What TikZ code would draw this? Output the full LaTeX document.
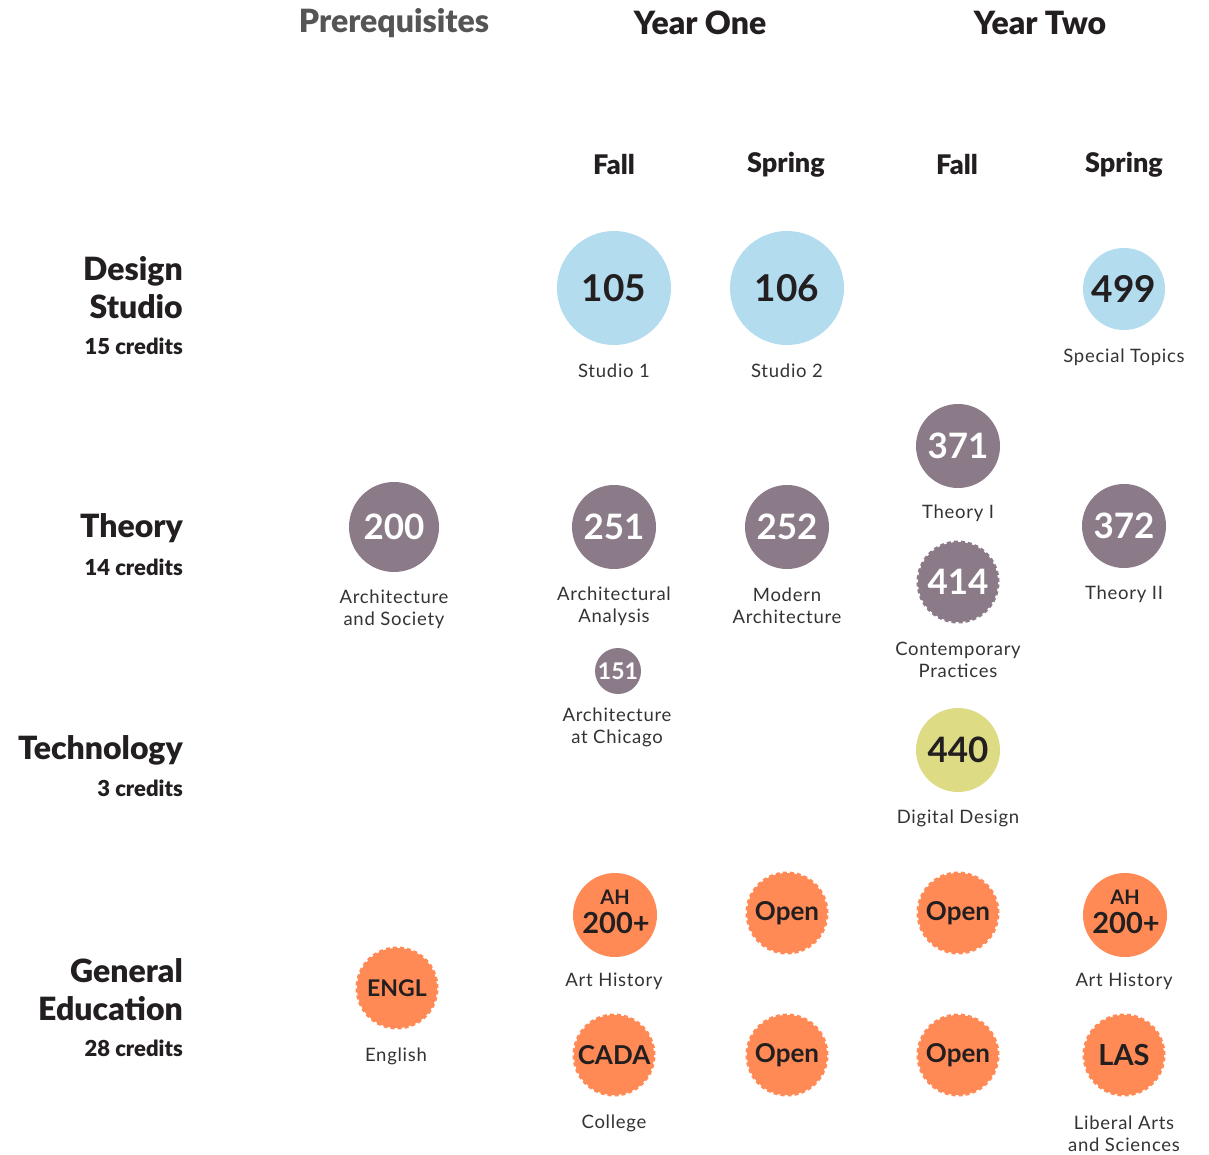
\documentclass[tikz,border=0pt]{standalone}
\usepackage{fontspec}
\setmainfont{Lato}
\newfontfamily\hdfont{Lato Black}
\newfontfamily\bdfont{Lato Bold}
\newfontfamily\lblfont[LetterSpace=4]{Lato}
\definecolor{cblue}{HTML}{B3DCEF}
\definecolor{cpurp}{HTML}{8B7A88}
\definecolor{corng}{HTML}{FF8A55}
\definecolor{cyell}{HTML}{DEDB85}
\definecolor{ink}{HTML}{231F20}
\definecolor{lblink}{HTML}{333333}
\definecolor{hdgray}{HTML}{555555}
\begin{document}
\begin{tikzpicture}[x=1pt,y=-1pt,
  crs/.style={circle,inner sep=0pt,minimum size=#1,align=center},
  bluec/.style={crs=114pt,fill=cblue,text=ink,font=\bdfont\fontsize{37}{37}\selectfont},
  bluesm/.style={crs=82pt,fill=cblue,text=ink,font=\bdfont\fontsize{37}{37}\selectfont},
  purpc/.style={crs=84pt,fill=cpurp,text=white,font=\bdfont\fontsize{35}{35}\selectfont},
  dashc/.style={crs=80pt,draw=#1,fill=#1,line width=3pt,dash pattern=on 4pt off 3pt},
  orgc/.style={crs=84pt,fill=corng,text=ink,font=\bdfont\fontsize{24}{24}\selectfont},
  intxt/.style={text=ink,font=\bdfont\fontsize{#1}{#1}\selectfont,inner sep=0pt},
  lbl/.style={align=center,text=lblink,font=\lblfont\fontsize{18.5}{22}\selectfont,inner sep=0pt},
  yhd/.style={font=\hdfont\fontsize{32}{32}\selectfont,text=ink,inner sep=0pt},
  shd/.style={font=\hdfont\fontsize{27}{27}\selectfont,text=ink,inner sep=0pt},
  rowhd/.style={anchor=east,align=right,font=\hdfont\fontsize{32}{38}\selectfont,text=ink,inner sep=0pt},
  cred/.style={anchor=east,font=\hdfont\fontsize{22}{22}\selectfont,text=ink,inner sep=0pt}
]
\useasboundingbox[fill=white] (0,0) rectangle (1209,1155);
% headers
\node[yhd,text=hdgray] (hpre) at (394,23) {Prerequisites};
\node[yhd] (hy1) at (700,23) {Year One};
\node[yhd] (hy2) at (1040,23) {Year Two};
\node[shd] (sf1) at (614,165) {Fall};
\node[shd] (ss1) at (786,165) {Spring};
\node[shd] (sf2) at (957,165) {Fall};
\node[shd] (ss2) at (1124,165) {Spring};
% row headers
\node[rowhd] (rds) at (183,288) {Design\\Studio};
\node[cred] (cds) at (183,346) {15 credits};
\node[rowhd] (rth) at (183,528) {Theory};
\node[cred] (cth) at (183,567) {14 credits};
\node[rowhd] (rte) at (183,750) {Technology};
\node[cred] (cte) at (183,788) {3 credits};
\node[rowhd] (rge) at (183,990) {General\\Education};
\node[cred] (cge) at (183,1048) {28 credits};
% design studio
\node[bluec] (c105) at (614,288) {105};
\node[lbl] (l105) at (614,371) {Studio 1};
\node[bluec] (c106) at (787,288) {106};
\node[lbl] (l106) at (787,371) {Studio 2};
\node[bluesm] (c499) at (1124,289) {499};
\node[lbl] (l499) at (1124,357) {Special Topics};
% theory
\node[purpc] (c371) at (958,446) {371};
\node[lbl] (l371) at (958,513) {Theory I};
\node[purpc,minimum size=90pt] (c200) at (394,527) {200};
\node[lbl] (l200) at (394,609) {Architecture\\and Society};
\node[purpc] (c251) at (614,527) {251};
\node[lbl] (l251) at (614,606) {Architectural\\Analysis};
\node[purpc] (c252) at (787,527) {252};
\node[lbl] (l252) at (787,606) {Modern\\Architecture};
\node[dashc=cpurp] (c414) at (958,582) {};
\node[intxt=35,text=white] (t414) at (c414) {414};
\node[lbl] (l414) at (958,660) {Contemporary\\Practices};
\node[purpc] (c372) at (1124,526) {372};
\node[lbl] (l372) at (1124,594) {Theory II};
\node[purpc,minimum size=46pt,font=\bdfont\fontsize{23}{23}\selectfont] (c151) at (618,671) {151};
\node[lbl] (l151) at (617,727) {Architecture\\at Chicago};
% technology
\node[purpc,fill=cyell,text=ink] (c440) at (958,750) {440};
\node[lbl] (l440) at (958,818) {Digital Design};
% general education
\node[orgc] (cah1) at (615,915) {};
\node[intxt=20] (tah1a) at (615,897) {AH};
\node[intxt=29] (tah1b) at (616,923) {200+};
\node[lbl] (lah1) at (614,981) {Art History};
\node[orgc] (cah2) at (1125,915) {};
\node[intxt=20] (tah2a) at (1125,897) {AH};
\node[intxt=29] (tah2b) at (1126,923) {200+};
\node[lbl] (lah2) at (1124,981) {Art History};
\node[dashc=corng] (cop1) at (787,913) {};
\node[intxt=26] (top1) at (cop1) {Open};
\node[dashc=corng] (cop2) at (958,913) {};
\node[intxt=26] (top2) at (cop2) {Open};
\node[dashc=corng] (ceng) at (397,988) {};
\node[intxt=23] (teng) at (ceng) {ENGL};
\node[lbl] (leng) at (396,1056) {English};
\node[dashc=corng] (ccad) at (614,1055) {};
\node[intxt=26] (tcad) at (ccad) {CADA};
\node[lbl] (lcad) at (614,1123) {College};
\node[dashc=corng] (cop3) at (787,1055) {};
\node[intxt=26] (top3) at (cop3) {Open};
\node[dashc=corng] (cop4) at (958,1055) {};
\node[intxt=26] (top4) at (cop4) {Open};
\node[dashc=corng] (clas) at (1124,1055) {};
\node[intxt=29] (tlas) at (clas) {LAS};
\node[lbl] (llas) at (1124,1134) {Liberal Arts\\and Sciences};
\end{tikzpicture}
\end{document}
